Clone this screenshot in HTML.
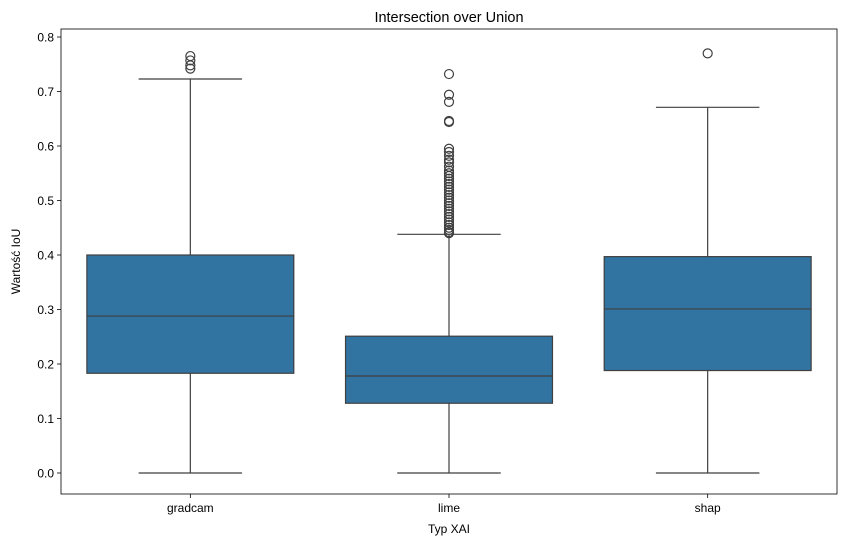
<!DOCTYPE html>
<html><head><meta charset="utf-8"><style>
body{margin:0;background:#fff;}
svg{font-family:"Liberation Sans","DejaVu Sans",sans-serif;}
</style></head><body>
<svg id="chart" width="846" height="547"></svg>
<script>
const categories=["gradcam","lime","shap"];
const q1=[0.183,0.128,0.188];
const medians=[0.288,0.178,0.301];
const q3=[0.400,0.251,0.397];
const whiskerLow=[0.0,0.0,0.0];
const whiskerHigh=[0.723,0.438,0.671];
const outliersGradcam=[0.765,0.757,0.748,0.742];
const outliersLime=[0.732,0.694,0.681,0.646,0.644,0.595,0.589,0.582,0.575,0.570,0.562,0.555,0.550,0.545,0.540,0.535,0.530,0.525,0.520,0.515,0.510,0.505,0.500,0.495,0.490,0.485,0.480,0.475,0.470,0.465,0.460,0.455,0.450,0.446,0.442,0.440];
const outliersShap=[0.77];
const yTicks=[0.0,0.1,0.2,0.3,0.4,0.5,0.6,0.7,0.8];
const outliers=[outliersGradcam,outliersLime,outliersShap];

const NS="http://www.w3.org/2000/svg";
const svg=document.getElementById("chart");
const L=61,R=837,T=29,B=494;
const y=v=>473-v*545;
const band=(R-L)/categories.length;
const xc=i=>L+band*(i+0.5);
function mk(tag,attrs,parent){const e=document.createElementNS(NS,tag);for(const k in attrs)e.setAttribute(k,attrs[k]);(parent||svg).appendChild(e);return e;}

const title=mk("text",{x:(L+R)/2,y:22,"text-anchor":"middle","font-size":"14.5",fill:"#000"});


title.textContent="Intersection over Union";

yTicks.forEach(t=>{
  const g=mk("g",{});
  
  
  mk("line",{x1:L-4,x2:L,y1:y(t),y2:y(t),stroke:"#000","stroke-width":0.8},g);
  const tx=mk("text",{x:L-7,y:y(t)+4.5,"text-anchor":"end","font-size":"12",fill:"#000"},g);
  tx.textContent=t.toFixed(1);
});
const yl=mk("text",{x:20,y:(T+B)/2,"text-anchor":"middle","font-size":"12",transform:`rotate(-90 20 ${(T+B)/2})`});


yl.textContent="Wartość IoU";
const xl=mk("text",{x:(L+R)/2,y:533,"text-anchor":"middle","font-size":"12"});


xl.textContent="Typ XAI";

const bw=band*0.8;
categories.forEach((c,i)=>{
  const g=mk("g",{});
  
  
  const x=xc(i);
  const st={stroke:"#3f3f3f","stroke-width":1.2};
  mk("line",Object.assign({x1:x,x2:x,y1:y(q1[i]),y2:y(whiskerLow[i])},st),g);
  mk("line",Object.assign({x1:x,x2:x,y1:y(q3[i]),y2:y(whiskerHigh[i])},st),g);
  mk("line",Object.assign({x1:x-bw/4,x2:x+bw/4,y1:y(whiskerLow[i]),y2:y(whiskerLow[i])},st),g);
  mk("line",Object.assign({x1:x-bw/4,x2:x+bw/4,y1:y(whiskerHigh[i]),y2:y(whiskerHigh[i])},st),g);
  mk("rect",Object.assign({x:x-bw/2,y:y(q3[i]),width:bw,height:y(q1[i])-y(q3[i]),fill:"#3274a1"},st),g);
  mk("line",Object.assign({x1:x-bw/2,x2:x+bw/2,y1:y(medians[i]),y2:y(medians[i])},st),g);
  outliers[i].forEach(v=>{
    const o=mk("circle",{cx:x,cy:y(v),r:4.5,fill:"none",stroke:"#3f3f3f","stroke-width":1.2},g);
    
    
  });
  mk("line",{x1:x,x2:x,y1:B,y2:B+4,stroke:"#000","stroke-width":0.8},g);
  const t=mk("text",{x:x,y:B+18,"text-anchor":"middle","font-size":"12"},g);
  t.textContent=c;
});
const frame=mk("rect",{x:L,y:T,width:R-L,height:B-T,fill:"none",stroke:"#000","stroke-width":0.8});


</script>
</body></html>
